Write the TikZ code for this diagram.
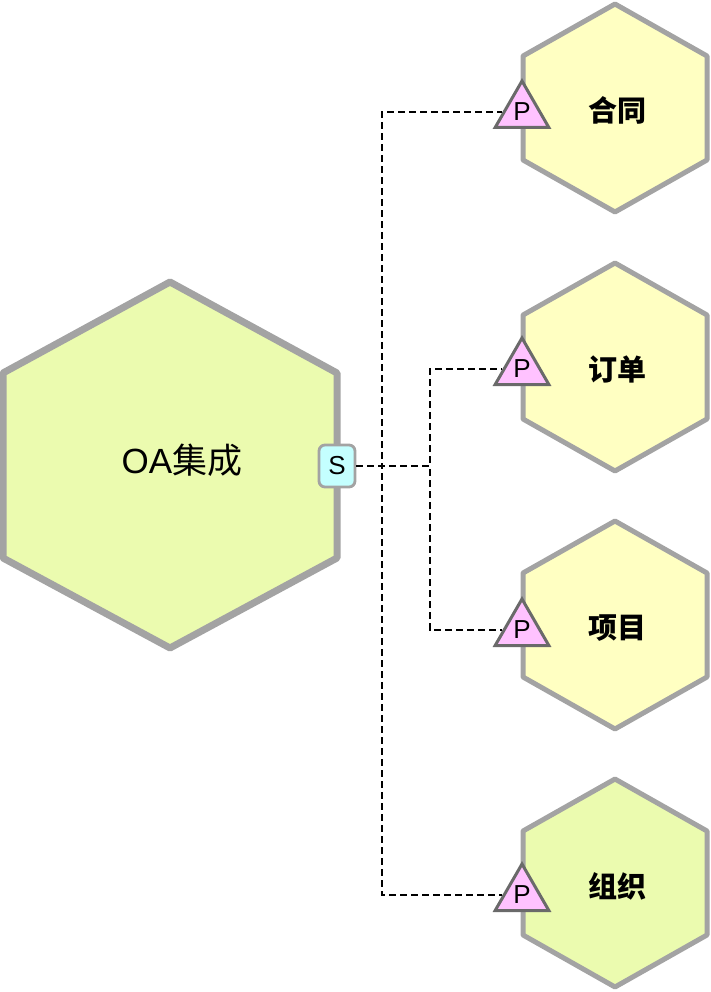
\documentclass[tikz,border=0pt]{standalone}
\usepackage{fontspec}
\setmainfont{Liberation Sans}
\newfontfamily\cjk{Noto Sans CJK SC}
\usepackage{tikz}
\usetikzlibrary{shapes.geometric}

\definecolor{hexgray}{HTML}{A3A3A3}
\definecolor{portgray}{HTML}{6A6A6A}
\definecolor{oagreen}{HTML}{EBFBAF}
\definecolor{bizyellow}{HTML}{FFFFC2}
\definecolor{svccyan}{HTML}{C4FFFF}
\definecolor{procpink}{HTML}{FFC2FF}

\tikzset{
  bighex/.style={draw=hexgray, line width=7pt, line join=round},
  smallhex/.style={draw=hexgray, line width=5pt, line join=round},
  hexlabel/.style={font=\cjk\fontsize{29}{29}\selectfont\bfseries},
  link/.style={dash pattern=on 7pt off 4pt, line width=1.3pt},
  pport/.style={regular polygon, regular polygon sides=3, minimum size=62pt,
    inner sep=0pt, draw=portgray, line width=3pt, fill=procpink,
    font=\fontsize{26}{26}\selectfont},
  sport/.style={rectangle, rounded corners=6pt, minimum width=36pt,
    minimum height=42pt, inner sep=0pt, draw=hexgray, line width=2.8pt,
    fill=svccyan, font=\fontsize{26}{26}\selectfont},
}

\begin{document}
\begin{tikzpicture}[x=1pt,y=-1pt]
    \useasboundingbox (0,0) rectangle (710,992);

    % OA hexagon
    \draw[bighex, fill=oagreen] (170,465) +(0,-183) -- +(167,-92) -- +(167,93)
      -- +(0,183) -- +(-167,93) -- +(-167,-92) -- cycle;
    \node[font=\fontsize{35}{35}\selectfont] (oa) at (182,460) {OA{\cjk 集成}};

    % Business hexagons
    \draw[smallhex, fill=bizyellow] (615,108) +(0,-104) -- +(92,-52) -- +(92,52)
      -- +(0,104) -- +(-92,52) -- +(-92,-52) -- cycle;
    \node[hexlabel] (hetong) at (617,110) {合同};
    \draw[smallhex, fill=bizyellow] (615,367) +(0,-104) -- +(92,-52) -- +(92,52)
      -- +(0,104) -- +(-92,52) -- +(-92,-52) -- cycle;
    \node[hexlabel] (dingdan) at (617,369) {订单};
    \draw[smallhex, fill=bizyellow] (615,625) +(0,-104) -- +(92,-52) -- +(92,52)
      -- +(0,104) -- +(-92,52) -- +(-92,-52) -- cycle;
    \node[hexlabel] (xiangmu) at (617,628) {项目};
    \draw[smallhex, fill=oagreen] (615,883) +(0,-104) -- +(92,-52) -- +(92,52)
      -- +(0,104) -- +(-92,52) -- +(-92,-52) -- cycle;
    \node[hexlabel] (zuzhi) at (617,886) {组织};

    % Ports
    \node[sport] (s) at (337,466) {S};
    \node[pport] (p1) at (522,112) {P};
    \node[pport] (p2) at (522,369) {P};
    \node[pport] (p3) at (522,630) {P};
    \node[pport] (p4) at (522,895) {P};

    % Links
    \draw[link] (s) -- ++(45,0) |- (p1);
    \draw[link] (s) -- ++(93,0) |- (p2);
    \draw[link] (s) -- ++(93,0) |- (p3);
    \draw[link] (s) -- ++(45,0) |- (p4);
\end{tikzpicture}
\end{document}
